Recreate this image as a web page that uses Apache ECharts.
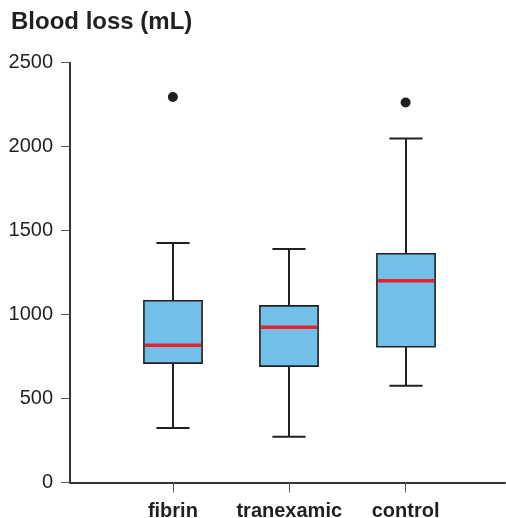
<!DOCTYPE html>
<html>
<head>
<meta charset="utf-8">
<script src="https://cdn.jsdelivr.net/npm/echarts@6/dist/echarts.min.js"></script>
<style>
html,body{margin:0;padding:0;background:#fff;}
#chart{width:506px;height:518px;}
</style>
</head>
<body>
<div id="chart"></div>
<script>
// ---- data ----
const categories = ['fibrin', 'tranexamic', 'control'];
const whiskerLow = [324, 273, 576];
const q1Values = [711, 693, 808];
const medianValues = [817, 925, 1201];
const q3Values = [1082, 1052, 1362];
const whiskerHigh = [1427, 1390, 2049];
const outlierCategory = ['fibrin', 'control'];
const outlierValues = [2296, 2263];
const yTicks = [0, 500, 1000, 1500, 2000, 2500];

// build library data
const positions = categories.map((c, i) => i + 1);
const boxData = categories.map((c, i) => [positions[i], whiskerLow[i], q1Values[i], medianValues[i], q3Values[i], whiskerHigh[i]]);
const outlierData = outlierCategory.map((c, i) => [categories.indexOf(c) + 1, outlierValues[i]]);

const DARK = '#231f20';
const chart = echarts.init(document.getElementById('chart'), null, {renderer: 'canvas'});

function renderBox(params, api) {
  const x = api.value(0);
  const lo = api.value(1), q1 = api.value(2), med = api.value(3), q3 = api.value(4), hi = api.value(5);
  const unit = api.size([1, 0])[0];
  const bw = unit * 0.5;
  const cw = unit * 0.285;
  const pLo = api.coord([x, lo]);
  const pQ1 = api.coord([x, q1]);
  const pMed = api.coord([x, med]);
  const pQ3 = api.coord([x, q3]);
  const pHi = api.coord([x, hi]);
  const cx = Math.round(pLo[0]);
  const lineStyle = {stroke: DARK, lineWidth: 2, fill: null};
  return {
    type: 'group',
    children: [
      {type: 'line', shape: {x1: cx, y1: pHi[1], x2: cx, y2: pQ3[1]}, style: lineStyle},
      {type: 'line', shape: {x1: cx, y1: pQ1[1], x2: cx, y2: pLo[1]}, style: lineStyle},
      {type: 'line', shape: {x1: cx - cw / 2, y1: pHi[1], x2: cx + cw / 2, y2: pHi[1]}, style: lineStyle},
      {type: 'line', shape: {x1: cx - cw / 2, y1: pLo[1], x2: cx + cw / 2, y2: pLo[1]}, style: lineStyle},
      {type: 'rect', shape: {x: cx - bw / 2, y: pQ3[1], width: bw, height: pQ1[1] - pQ3[1]},
        style: {fill: '#72bfea', stroke: DARK, lineWidth: 1.6}},
      {type: 'line', shape: {x1: cx - bw / 2 + 1, y1: pMed[1], x2: cx + bw / 2 - 1, y2: pMed[1]},
        style: {stroke: '#e8202a', lineWidth: 3.5}}
    ]
  };
}

chart.setOption({
  animation: false,
  backgroundColor: '#ffffff',
  title: {
    text: 'Blood loss (mL)',
    left: 11, top: 10, padding: 0,
    textStyle: {fontFamily: 'Liberation Sans, Arial, sans-serif', fontSize: 24, fontWeight: 'bold', color: DARK}
  },
  grid: {left: 70, right: 1, top: 62.7, bottom: 35.5, containLabel: false, outerBoundsMode: 'none'},
  xAxis: {
    type: 'value',
    min: 1 - 103 / 116.5,
    max: 3 + 99.5 / 116.5,
    splitLine: {show: false},
    axisLine: {show: true, onZero: false, lineStyle: {color: '#333', width: 2}},
    axisTick: {show: true, length: 10, customValues: positions, lineStyle: {color: '#555', width: 1}},
    axisLabel: {
      customValues: positions, margin: 19,
      formatter: v => categories[Math.round(v) - 1] || '',
      fontFamily: 'Liberation Sans, Arial, sans-serif', fontSize: 20, fontWeight: 'bold', color: DARK
    }
  },
  yAxis: {
    type: 'value', min: 0, max: 2500, interval: 500,
    splitLine: {show: false},
    axisLine: {show: true, lineStyle: {color: '#333', width: 2}},
    axisTick: {show: true, length: 9, lineStyle: {color: '#555', width: 1}},
    axisLabel: {
      margin: 17, customValues: yTicks,
      formatter: v => String(v),
      fontFamily: 'Liberation Sans, Arial, sans-serif', fontSize: 20, color: DARK
    }
  },
  series: [
    {type: 'custom', renderItem: renderBox, data: boxData, encode: {x: 0, y: [1, 2, 3, 4, 5]}, z: 3},
    {type: 'scatter', data: outlierData, symbol: 'circle', symbolSize: 10, itemStyle: {color: DARK, opacity: 1}, z: 4}
  ]
});
</script>
</body>
</html>
